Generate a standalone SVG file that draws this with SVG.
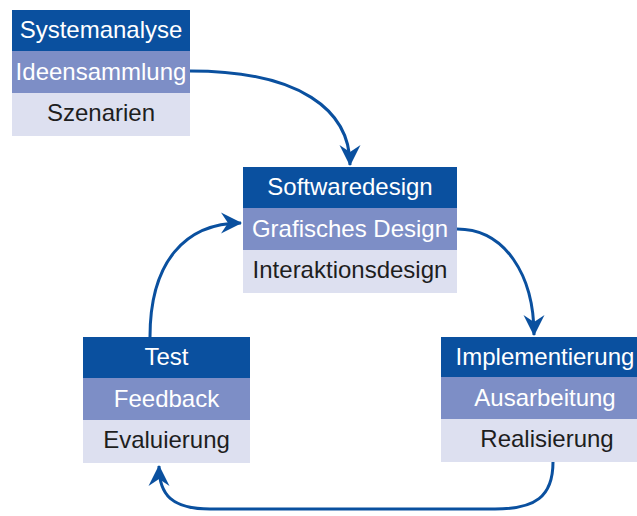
<svg xmlns="http://www.w3.org/2000/svg" width="637" height="516" viewBox="0 0 637 516">
<defs>
<style>
.r1{fill:#0a509f}
.r2{fill:#7d8ec6}
.r3{fill:#dde0f0}
text{font-family:"Liberation Sans",Arial,sans-serif;font-size:24px;text-anchor:middle}
.t1,.t2{fill:#ffffff}
.t3{fill:#1e1e1e}
.c{fill:none;stroke:#0a509f;stroke-width:3;marker-end:url(#ah)}
</style>
<marker id="ah" markerUnits="userSpaceOnUse" viewBox="-22 -12 24 24" markerWidth="24" markerHeight="24" refX="0" refY="0" orient="auto">
<path d="M1,0 L-20,-10.5 L-13,0 L-20,10.5 Z" fill="#0a509f"/>
</marker>
</defs>
<g id="connectors">
<path class="c" d="M190,71 C300,71 350,110 350,165"/>
<path class="c" d="M457,229 C505,229 534,275 534,335"/>
<path class="c" d="M553,462 C553,497 535,509 495,509 L210,509 C172,509 159,495 159,466"/>
<path class="c" d="M150,337 C150,262 185,223 241,223"/>
</g>
<g id="systemanalyse">
<rect class="r1" x="12" y="10" width="178" height="41"/>
<rect class="r2" x="12" y="51" width="178" height="42"/>
<rect class="r3" x="12" y="93" width="178" height="43"/>
<text class="t1" x="101" y="38">Systemanalyse</text>
<text class="t2" x="101" y="80">Ideensammlung</text>
<text class="t3" x="101" y="121">Szenarien</text>
</g>
<g id="softwaredesign">
<rect class="r1" x="243" y="167" width="214" height="41"/>
<rect class="r2" x="243" y="208" width="214" height="42"/>
<rect class="r3" x="243" y="250" width="214" height="43"/>
<text class="t1" x="350" y="195">Softwaredesign</text>
<text class="t2" x="350" y="237">Grafisches Design</text>
<text class="t3" x="350" y="278">Interaktionsdesign</text>
</g>
<g id="test">
<rect class="r1" x="83" y="337" width="167" height="41"/>
<rect class="r2" x="83" y="378" width="167" height="42"/>
<rect class="r3" x="83" y="420" width="167" height="43"/>
<text class="t1" x="166.5" y="365">Test</text>
<text class="t2" x="166.5" y="407">Feedback</text>
<text class="t3" x="166.5" y="448">Evaluierung</text>
</g>
<g id="implementierung">
<rect class="r1" x="441" y="337" width="208" height="40"/>
<rect class="r2" x="441" y="377" width="208" height="42"/>
<rect class="r3" x="441" y="419" width="208" height="43"/>
<text class="t1" x="545" y="365">Implementierung</text>
<text class="t2" x="545" y="406">Ausarbeitung</text>
<text class="t3" x="547" y="447">Realisierung</text>
</g>
</svg>
